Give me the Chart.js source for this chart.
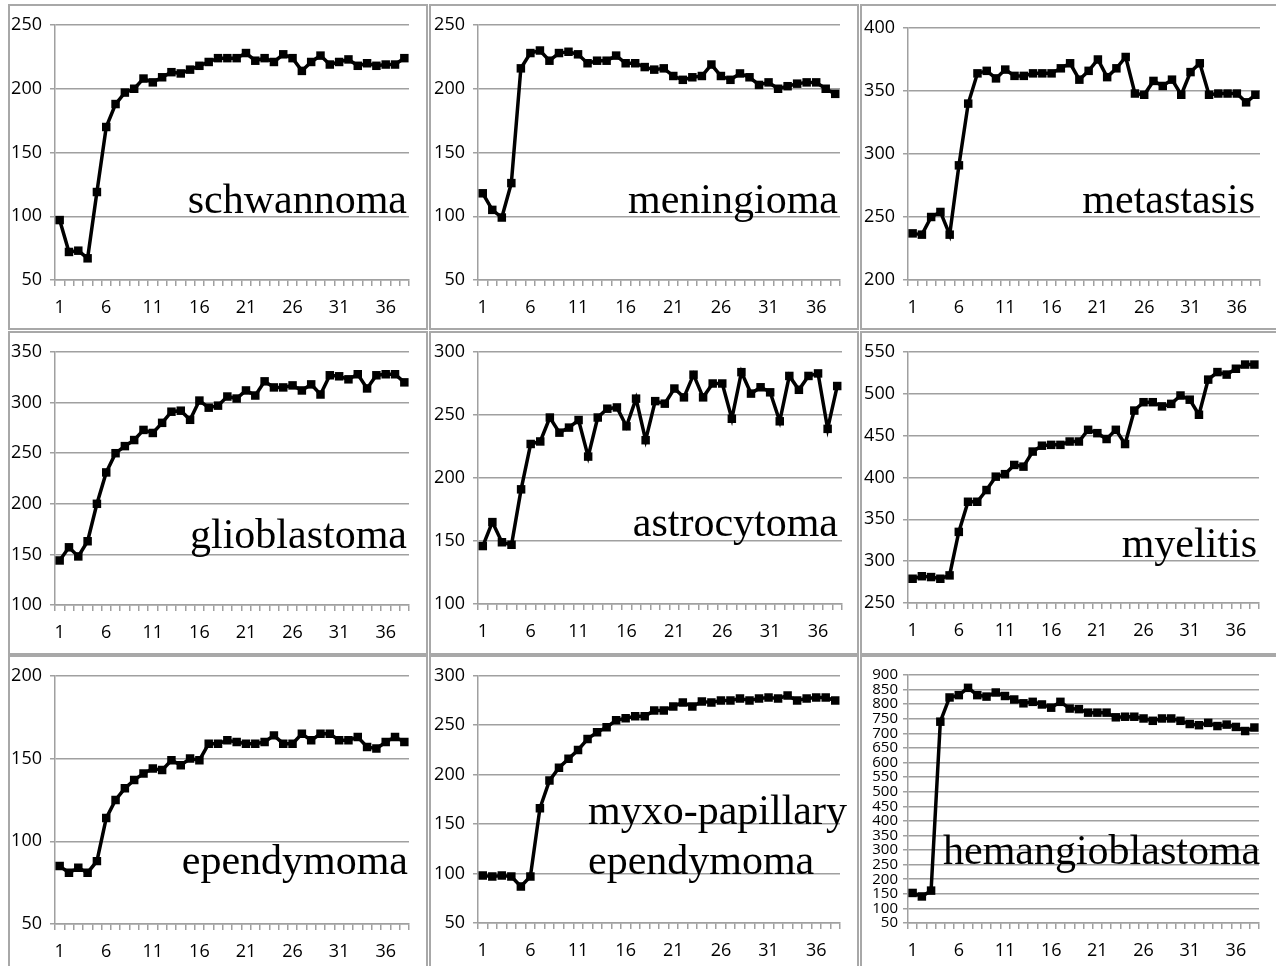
<!DOCTYPE html>
<html>
<head>
<meta charset="utf-8">
<script src="https://cdn.jsdelivr.net/npm/chart.js@4"></script>
<style>
  html, body { margin: 0; padding: 0; background: #fff; }
  body { width: 1276px; height: 966px; position: relative; overflow: hidden; }
  .panel { position: absolute; box-sizing: border-box; border: 2px solid #a8a8a8; background: #fff; }
  .panel canvas { position: absolute; left: 0; top: 0; }
</style>
</head>
<body>
<script>
// x categories (time points) and the labels shown on the x axis
const categories = ['1','2','3','4','5','6','7','8','9','10','11','12','13','14','15','16','17','18','19',
  '20','21','22','23','24','25','26','27','28','29','30','31','32','33','34','35','36','37','38'];
const xTickLabels = ['1','6','11','16','21','26','31','36'];

// one series per tumour type
const schwannoma = [97,72,73,67,119,170,188,197,200,208,205,209,213,212,215,218,221,224,224,224,
  228,222,224,221,227,224,214,221,226,219,221,223,218,220,218,219,219,224];
const meningioma = [118,105,99,126,216,228,230,222,228,229,227,220,222,222,226,220,220,217,215,216,
  210,207,209,210,219,210,207,212,209,203,205,200,202,204,205,205,200,196];
const metastasis = [237,236,250,254,236,291,340,364,366,360,367,362,362,364,364,364,368,372,359,366,
  375,361,368,377,348,347,358,354,359,347,365,372,347,348,348,348,341,347];
const glioblastoma = [144,157,148,163,200,231,250,257,263,273,270,280,291,292,283,302,295,297,306,304,
  312,307,321,315,315,317,312,318,308,327,326,323,328,314,327,328,328,320];
const astrocytoma = [146,165,149,147,191,227,229,248,236,240,246,217,248,255,256,241,263,230,261,259,
  271,264,282,264,275,275,247,284,267,272,268,245,281,270,281,283,239,273];
const myelitis = [279,282,281,279,283,335,371,371,385,401,404,415,413,431,438,439,439,443,443,457,
  453,446,457,440,480,490,490,485,488,498,493,475,517,526,523,530,535,535];
const ependymoma = [85,81,84,81,88,114,125,132,137,141,144,143,149,146,150,149,159,159,161,160,
  159,159,160,164,159,159,165,161,165,165,161,161,163,157,156,160,163,160];
const myxoPapillary = [98,97,98,97,87,97,166,194,207,216,225,236,243,248,255,257,259,259,265,265,
  269,273,269,274,273,275,275,277,275,277,278,277,280,275,277,278,278,275];
const hemangioblastoma = [153,141,161,740,823,831,856,831,826,840,828,816,803,808,799,788,808,785,783,771,
  771,771,755,757,757,751,743,751,751,743,732,728,736,725,730,722,708,720];

const titles = [['schwannoma'], ['meningioma'], ['metastasis'], ['glioblastoma'], ['astrocytoma'],
  ['myelitis'], ['ependymoma'], ['myxo-papillary', 'ependymoma'], ['hemangioblastoma']];
const yMin = [50, 50, 200, 100, 100, 250, 50, 50, 50];
const yMax = [250, 250, 400, 350, 300, 550, 200, 300, 900];
const series = [schwannoma, meningioma, metastasis, glioblastoma, astrocytoma, myelitis,
  ependymoma, myxoPapillary, hemangioblastoma];

// layout of the 3x3 grid (page pixels)
const cols = [[8, 428], [429, 859], [860, 1282]];
const rows = [[4, 330], [331, 655], [655, 975]];
const plots = [
  [55, 25, 409, 280], [478, 25, 840, 280], [908, 28, 1260, 280],
  [55, 352, 409, 605], [478, 352, 842, 604], [908, 352, 1259, 603],
  [55, 675, 409, 924], [478, 674, 840, 923], [908, 675, 1259, 923]
];
// title anchors: [x, baseline, align]
const titlePos = [
  [407, 213, 'right'], [838, 213, 'right'], [1255, 213, 'right'],
  [407, 548, 'right'], [838, 536, 'right'], [1257, 557, 'right'],
  [408, 874, 'right'], [588, 824, 'left'], [943, 864, 'left']
];

const GRID = '#a0a0a0';

const titlePlugin = {
  id: 'panelTitle',
  beforeDatasetsDraw(chart, args, opts) {
    const ctx = chart.ctx;
    ctx.save();
    ctx.fillStyle = '#000';
    ctx.font = '42px "Liberation Serif", "Times New Roman", serif';
    ctx.textAlign = opts.align;
    ctx.textBaseline = 'alphabetic';
    opts.lines.forEach(function (line, i) {
      ctx.fillText(line, opts.x, opts.y + i * 50);
    });
    ctx.restore();
  }
};

for (let i = 0; i < 9; i++) {
  const col = cols[i % 3], row = rows[Math.floor(i / 3)];
  const box = [col[0], row[0], col[1], row[1]];
  const plot = plots[i];
  const cx = box[0] + 2, cy = box[1] + 2;
  const cw = box[2] - box[0] - 4, ch = box[3] - box[1] - 4;
  const yAxisWidth = plot[0] - cx;
  const xAxisHeight = 38;

  const div = document.createElement('div');
  div.className = 'panel';
  div.style.left = box[0] + 'px';
  div.style.top = box[1] + 'px';
  div.style.width = (box[2] - box[0]) + 'px';
  div.style.height = (box[3] - box[1]) + 'px';
  const canvas = document.createElement('canvas');
  canvas.width = cw;
  canvas.height = ch;
  canvas.style.width = cw + 'px';
  canvas.style.height = ch + 'px';
  div.appendChild(canvas);
  document.body.appendChild(div);

  const small = i === 8;

  new Chart(canvas.getContext('2d'), {
    type: 'line',
    data: {
      labels: categories,
      datasets: [{
        data: series[i],
        borderColor: '#000',
        backgroundColor: '#000',
        borderWidth: 3.5,
        tension: 0,
        pointStyle: 'rect',
        pointRadius: 6,
        pointBorderWidth: 0,
        pointBackgroundColor: '#000'
      }]
    },
    options: {
      responsive: false,
      animation: false,
      events: [],
      layout: {
        padding: {
          left: 0,
          top: plot[1] - cy,
          right: cx + cw - plot[2],
          bottom: cy + ch - plot[3] - xAxisHeight
        }
      },
      plugins: {
        legend: { display: false },
        tooltip: { enabled: false },
        panelTitle: {
          lines: titles[i],
          x: titlePos[i][0] - cx,
          y: titlePos[i][1] - cy,
          align: titlePos[i][2]
        }
      },
      scales: {
        x: {
          offset: true,
          afterFit: function (scale) { scale.height = xAxisHeight; },
          grid: { offset: true, drawOnChartArea: false, drawTicks: true, tickLength: 6, color: GRID, lineWidth: 1.5 },
          border: { display: true, color: GRID, width: 1.5 },
          ticks: {
            autoSkip: false,
            maxRotation: 0,
            padding: 11,
            color: '#000',
            font: { family: '"Open Sans", sans-serif', size: 18 },
            callback: function (value, index) {
              const lab = categories[index];
              return xTickLabels.indexOf(lab) >= 0 ? lab : '';
            }
          }
        },
        y: {
          min: yMin[i],
          max: yMax[i],
          afterFit: function (scale) { scale.width = yAxisWidth; },
          grid: { color: GRID, lineWidth: 1.5, tickLength: 5 },
          border: { display: true, color: GRID, width: 1.5 },
          ticks: {
            stepSize: 50,
            autoSkip: false,
            padding: small ? 5 : 8,
            color: '#000',
            font: { family: '"Open Sans", sans-serif', size: small ? 15 : 18 }
          }
        }
      }
    },
    plugins: [titlePlugin]
  });
}
</script>
</body>
</html>
